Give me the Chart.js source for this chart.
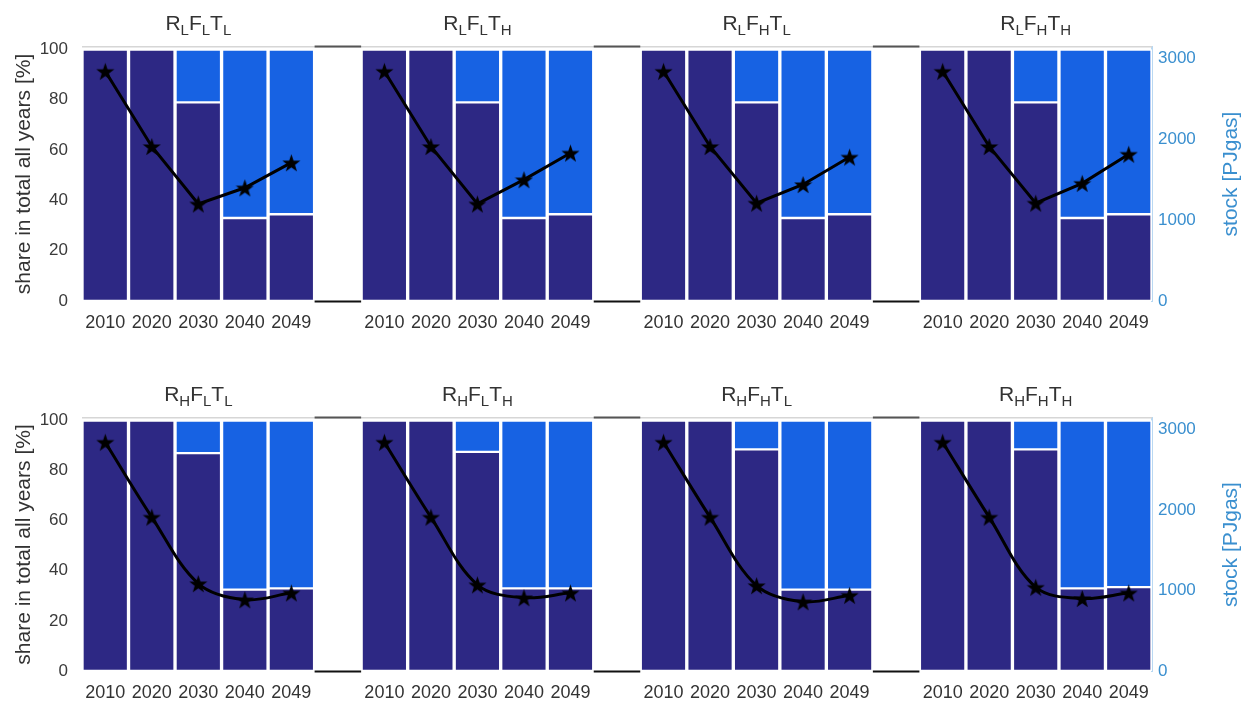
<!DOCTYPE html>
<html>
<head>
<meta charset="utf-8">
<title>Gas stock and share</title>
<script src="https://cdn.jsdelivr.net/npm/chart.js@4.4.1/dist/chart.umd.min.js"></script>
<style>
  html, body { margin: 0; padding: 0; background: #fff; overflow: hidden; }
  .row { position: absolute; left: 0; width: 1259px; }
  #rowTop { top: 0; }
  #rowBottom { top: 370px; }
</style>
</head>
<body>
<div class="row" id="rowTop"><canvas id="chartTop" width="1259" height="340"></canvas></div>
<div class="row" id="rowBottom"><canvas id="chartBottom" width="1259" height="337"></canvas></div>
<script>
const years = ['2010', '2020', '2030', '2040', '2049'];

// subscripts of R, F and T for each panel
const subsTop = [['L', 'L', 'L'], ['L', 'L', 'H'], ['L', 'H', 'L'], ['L', 'H', 'H']];
const subsBottom = [['H', 'L', 'L'], ['H', 'L', 'H'], ['H', 'H', 'L'], ['H', 'H', 'H']];

// share of the dark part [%], one row per panel
const shareTop = [
  [100, 100, 79, 33, 34.5],
  [100, 100, 79, 33, 34.5],
  [100, 100, 79, 33, 34.5],
  [100, 100, 79, 33, 34.5]
];
const shareBottom = [
  [100, 100, 87, 32.5, 33],
  [100, 100, 87.5, 33, 33],
  [100, 100, 88.5, 32.5, 32.5],
  [100, 100, 88.5, 33, 33.5]
];

// stock [PJgas], one row per panel
const stockTop = [
  [2840, 1910, 1200, 1400, 1710],
  [2840, 1910, 1200, 1500, 1830],
  [2840, 1910, 1210, 1440, 1780],
  [2840, 1910, 1210, 1455, 1815]
];
const stockBottom = [
  [2840, 1910, 1085, 885, 970],
  [2840, 1910, 1070, 910, 970],
  [2840, 1910, 1060, 860, 940],
  [2840, 1910, 1040, 900, 970]
];

const shareTicks = [0, 20, 40, 60, 80, 100];
const stockTicks = [0, 1000, 2000, 3000];

const FONT = "'Liberation Sans', Arial, sans-serif";
const DARK = '#2d2884';
const LIGHT = '#1762e3';
const STOCK_BLUE = '#3a8fcf';

// filled five-point star used as line marker
function makeStar(size) {
  const c = document.createElement('canvas');
  c.width = c.height = size;
  const ctx = c.getContext('2d');
  const R = size / 2, r = R * 0.4;
  ctx.beginPath();
  for (let i = 0; i < 10; i++) {
    const a = -Math.PI / 2 + i * Math.PI / 5;
    const rad = i % 2 ? r : R;
    ctx.lineTo(R + rad * Math.cos(a), R + 1 + rad * Math.sin(a));
  }
  ctx.closePath();
  ctx.fillStyle = '#000';
  ctx.fill();
  return c;
}
const star = makeStar(19);

// panels are laid out side by side with an empty slot between them
function spread(rows, fn) {
  const out = [];
  rows.forEach((r, p) => {
    r.forEach(v => out.push(fn(v)));
    if (p < rows.length - 1) out.push(null);
  });
  return out;
}

const labels = [];
const gapSlots = [];
for (let p = 0; p < 4; p++) {
  years.forEach(y => labels.push(y));
  if (p < 3) { gapSlots.push(labels.length); labels.push(''); }
}

// titles, axis names and the frame pieces between panels
const panelDecor = {
  id: 'panelDecor',
  afterDatasetsDraw(chart, args, opts) {
    const { ctx, chartArea, scales: { x } } = chart;
    const slot = chartArea.width / labels.length;
    ctx.save();

    ctx.fillStyle = '#d6d6d6';
    ctx.fillRect(chartArea.left, chartArea.top - 1, chartArea.width, 1.5);

    gapSlots.forEach(g => {
      const cx = x.getPixelForValue(g);
      ctx.fillStyle = '#555';
      ctx.fillRect(cx - slot / 2, chartArea.top - 1.5, slot, 2);
      ctx.fillStyle = '#111';
      ctx.fillRect(cx - slot / 2, chartArea.bottom - 0.5, slot, 2);
    });

    // panel titles with subscripts
    opts.subs.forEach((s, p) => {
      const cx = x.getPixelForValue(p * 6 + 2);
      const parts = [];
      ['R', 'F', 'T'].forEach((ch, i) => {
        parts.push({ t: ch, f: '21px ' + FONT, dy: 0 });
        parts.push({ t: s[i], f: '15px ' + FONT, dy: 5 });
      });
      let w = 0;
      parts.forEach(pt => { ctx.font = pt.f; pt.w = ctx.measureText(pt.t).width; w += pt.w; });
      let px = cx - w / 2;
      const base = chartArea.top - 17;
      ctx.fillStyle = '#333';
      ctx.textAlign = 'left';
      ctx.textBaseline = 'alphabetic';
      parts.forEach(pt => {
        ctx.font = pt.f;
        ctx.fillText(pt.t, px, base + pt.dy);
        px += pt.w;
      });
    });

    const midY = (chartArea.top + chartArea.bottom) / 2;
    ctx.textAlign = 'center';
    ctx.textBaseline = 'middle';
    ctx.font = '21px ' + FONT;

    ctx.save();
    ctx.translate(24, midY);
    ctx.rotate(-Math.PI / 2);
    ctx.fillStyle = '#333';
    ctx.fillText('share in total all years [%]', 0, 0);
    ctx.restore();

    ctx.save();
    ctx.translate(1231, midY);
    ctx.rotate(-Math.PI / 2);
    ctx.fillStyle = STOCK_BLUE;
    ctx.fillText('stock [PJgas]', 0, 0);
    ctx.restore();

    ctx.restore();
  }
};

function buildRow(canvasId, share, stock, subs, smooth, padTop, axisH) {
  const dark = spread(share, v => v);
  const light = spread(share, v => (v >= 100 ? null : 100 - v));
  const line = spread(stock, v => v);

  const barStyle = {
    borderColor: '#ffffff',
    borderWidth: { top: 1.5, bottom: 1.5, left: 2, right: 2 },
    borderSkipped: false,
    barPercentage: 1,
    categoryPercentage: 1,
    yAxisID: 'y',
    order: 1
  };

  new Chart(document.getElementById(canvasId), {
    type: 'bar',
    data: {
      labels: labels,
      datasets: [
        Object.assign({ label: 'dark', data: dark, backgroundColor: DARK }, barStyle),
        Object.assign({ label: 'light', data: light, backgroundColor: LIGHT }, barStyle),
        {
          type: 'line',
          label: 'stock',
          data: line,
          yAxisID: 'y2',
          borderColor: '#000',
          borderWidth: 3,
          tension: smooth ? 0.35 : 0,
          spanGaps: false,
          pointStyle: star,
          pointRadius: 9,
          order: 0
        }
      ]
    },
    options: {
      responsive: false,
      animation: false,
      events: [],
      layout: { padding: { top: padTop, left: 0, right: 0, bottom: 0 } },
      plugins: {
        legend: { display: false },
        tooltip: { enabled: false },
        panelDecor: { subs: subs }
      },
      scales: {
        x: {
          stacked: true,
          grid: { display: false, drawTicks: false },
          border: { display: false },
          ticks: {
            autoSkip: false, maxRotation: 0, padding: 11,
            color: '#333', font: { family: FONT, size: 18 }
          },
          afterFit(scale) { scale.height = axisH; }
        },
        y: {
          stacked: true,
          position: 'left',
          min: 0,
          max: 101,
          grid: { display: false, drawTicks: false },
          border: { display: false },
          afterBuildTicks(scale) { scale.ticks = shareTicks.map(v => ({ value: v })); },
          ticks: { padding: 14, color: '#3a3a3a', font: { family: FONT, size: 17 } },
          afterFit(scale) { scale.width = 82; }
        },
        y2: {
          position: 'right',
          min: 0,
          max: 3140,
          grid: { display: false, drawTicks: false },
          border: { display: true, color: '#b8d8f2', width: 2 },
          afterBuildTicks(scale) { scale.ticks = stockTicks.map(v => ({ value: v })); },
          ticks: {
            padding: 6, color: STOCK_BLUE, font: { family: FONT, size: 17 },
            callback: v => String(v)
          },
          afterFit(scale) { scale.width = 107; }
        }
      }
    },
    plugins: [panelDecor]
  });
}

buildRow('chartTop', shareTop, stockTop, subsTop, false, 47, 39);
buildRow('chartBottom', shareBottom, stockBottom, subsBottom, true, 48, 36);
</script>
</body>
</html>
